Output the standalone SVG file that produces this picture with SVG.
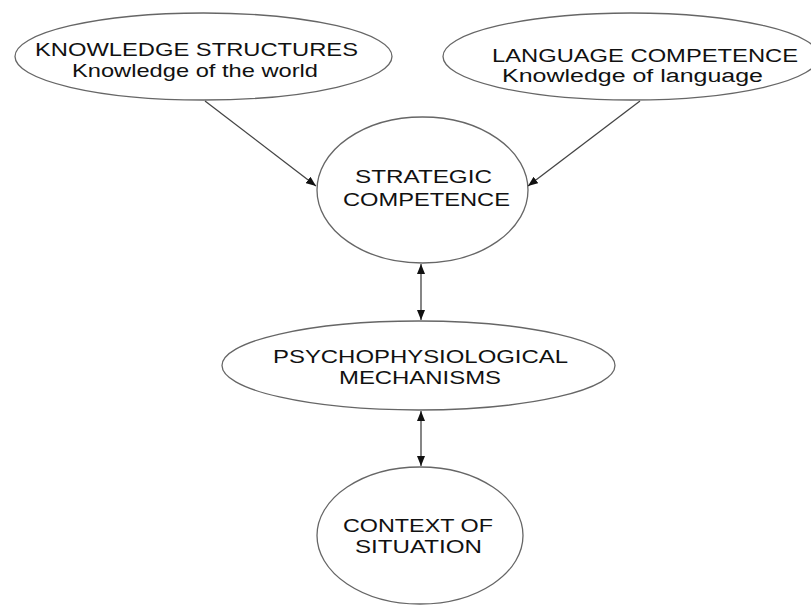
<svg xmlns="http://www.w3.org/2000/svg" width="811" height="606" viewBox="0 0 811 606">
<style>
.shape{fill:none;stroke:#666;stroke-width:1.3}
.lbl{font-family:"Liberation Sans",Arial,sans-serif;font-size:19px;fill:#111}
.sm{font-size:18px}
.conn{stroke:#444;stroke-width:1.3;fill:none}
</style>
<defs>
<marker id="ah" viewBox="0 0 10 8" refX="10" refY="4" markerWidth="10" markerHeight="8" markerUnits="userSpaceOnUse" orient="auto-start-reverse">
<path d="M0,0 L10,4 L0,8 Z" fill="#111"/>
</marker>
</defs>
<rect width="811" height="606" fill="#fff"/>
<g id="knowledge">
<ellipse class="shape" cx="203.5" cy="56.5" rx="188.5" ry="43.5"/>
<text class="lbl" x="35" y="56" textLength="323" lengthAdjust="spacingAndGlyphs">KNOWLEDGE STRUCTURES</text>
<text class="lbl" x="72" y="77" textLength="246" lengthAdjust="spacingAndGlyphs">Knowledge of the world</text>
</g>
<g id="language">
<ellipse class="shape" cx="631" cy="56.5" rx="188" ry="43.5"/>
<text class="lbl sm" x="492" y="62" textLength="306" lengthAdjust="spacingAndGlyphs">LANGUAGE COMPETENCE</text>
<text class="lbl sm" x="502" y="82" textLength="261" lengthAdjust="spacingAndGlyphs">Knowledge of language</text>
</g>
<g id="strategic">
<ellipse class="shape" cx="422.5" cy="190" rx="105.5" ry="73"/>
<text class="lbl" x="355" y="183" textLength="137" lengthAdjust="spacingAndGlyphs">STRATEGIC</text>
<text class="lbl" x="343" y="206" textLength="167" lengthAdjust="spacingAndGlyphs">COMPETENCE</text>
</g>
<g id="psycho">
<ellipse class="shape" cx="418.5" cy="365.5" rx="196.5" ry="44.5"/>
<text class="lbl" x="273" y="363" textLength="295" lengthAdjust="spacingAndGlyphs">PSYCHOPHYSIOLOGICAL</text>
<text class="lbl" x="339" y="384" textLength="162" lengthAdjust="spacingAndGlyphs">MECHANISMS</text>
</g>
<g id="context">
<ellipse class="shape" cx="420" cy="535.5" rx="103" ry="68.5"/>
<text class="lbl" x="343" y="532" textLength="150" lengthAdjust="spacingAndGlyphs">CONTEXT OF</text>
<text class="lbl" x="355" y="553" textLength="127" lengthAdjust="spacingAndGlyphs">SITUATION</text>
</g>
<g id="connectors">
<line class="conn" x1="205" y1="101" x2="316" y2="186" marker-end="url(#ah)"/>
<line class="conn" x1="640" y1="101" x2="528" y2="186" marker-end="url(#ah)"/>
<line class="conn" x1="421" y1="264" x2="421" y2="320" marker-start="url(#ah)" marker-end="url(#ah)"/>
<line class="conn" x1="421" y1="411" x2="421" y2="466" marker-start="url(#ah)" marker-end="url(#ah)"/>
</g>
</svg>
